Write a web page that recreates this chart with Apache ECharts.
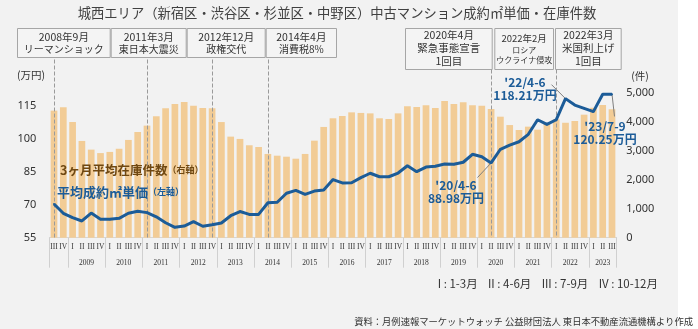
<!DOCTYPE html>
<html><head><meta charset="utf-8">
<script src="https://cdn.jsdelivr.net/npm/echarts@6/dist/echarts.min.js"></script>
<style>html,body{margin:0;padding:0;background:#fff}#c{width:698px;height:329px}</style>
</head><body><div id="c"></div><script>
// ---- data ----
const categories = [
 '2008/III','2008/IV',
 '2009/I','2009/II','2009/III','2009/IV',
 '2010/I','2010/II','2010/III','2010/IV',
 '2011/I','2011/II','2011/III','2011/IV',
 '2012/I','2012/II','2012/III','2012/IV',
 '2013/I','2013/II','2013/III','2013/IV',
 '2014/I','2014/II','2014/III','2014/IV',
 '2015/I','2015/II','2015/III','2015/IV',
 '2016/I','2016/II','2016/III','2016/IV',
 '2017/I','2017/II','2017/III','2017/IV',
 '2018/I','2018/II','2018/III','2018/IV',
 '2019/I','2019/II','2019/III','2019/IV',
 '2020/I','2020/II','2020/III','2020/IV',
 '2021/I','2021/II','2021/III','2021/IV',
 '2022/I','2022/II','2022/III','2022/IV',
 '2023/I','2023/II','2023/III'
];
// 3ヶ月平均在庫件数 (件, right axis)
const inventory = [
 4400,4515,
 4006,3350,3050,2930,
 2970,3080,3385,3660,
 3880,4205,4480,4630,
 4700,4570,4490,4480,
 4005,3500,3420,3200,
 3140,2900,2840,2805,
 2735,2900,3360,3835,
 4135,4215,4340,4320,
 4305,4135,4110,4305,
 4550,4525,4585,4490,
 4735,4630,4690,4585,
 4570,4455,4190,3900,
 3730,3845,3740,3950,
 4100,3980,4040,4260,
 4500,4595,4445
];
// 平均成約㎡単価 (万円, left axis)
const price = [
 70.3,66.1,
 64.1,62.6,66.2,63.4,
 63.4,63.8,66.1,67.0,
 66.4,64.5,61.8,59.7,
 60.3,62.3,60.2,60.9,
 61.7,65.0,66.9,65.6,
 65.6,70.9,71.1,75.2,
 76.5,74.7,76.2,76.7,
 81.4,79.9,80.0,82.3,
 84.3,82.7,82.7,84.4,
 87.7,85.0,87.1,87.5,
 88.5,88.4,89.3,92.9,
 91.8,88.98,95.2,97.1,
 98.6,102.0,108.6,106.5,
 108.6,118.21,115.3,113.8,
 112.3,120.2,120.25
];
const leftTickMin = 55, leftTickMax = 115, leftTickStep = 15;
const rightTickMin = 0, rightTickMax = 5000, rightTickStep = 1000;
// events: category of dashed line + box text
const events = [
 {cat:'2008/III', lines:['2008年9月','リーマンショック']},
 {cat:'2011/I',  lines:['2011年3月','東日本大震災']},
 {cat:'2012/IV', lines:['2012年12月','政権交代']},
 {cat:'2014/II', lines:['2014年4月','消費税8%']},
 {cat:'2020/II', lines:['2020年4月','緊急事態宣言','1回目']},
 {cat:'2022/I',  lines:['2022年2月','ロシア','ウクライナ侵攻']},
 {cat:'2022/I',  lines:['2022年3月','米国利上げ','1回目']}
];
const callouts = [
 {cat:'2020/II', tag:"'20/4-6"},
 {cat:'2022/II', tag:"'22/4-6"},
 {cat:'2023/III', tag:"'23/7-9"}
];

// ---- layout / style ----
const FONT = "'Noto Sans CJK JP','Noto Sans',sans-serif";
const SERIF = "'Liberation Serif','DejaVu Serif',serif";
const BLUE = '#1c5c98', BROWN = '#6f4812', BAR = '#f2cc96';
const gridLeft = 49.35, gridRight = 81.35, gridTop = 58, gridBottom = 91.3;
const plotH = 329 - gridTop - gridBottom;
const leftPxPerUnit = 2.2, rightPxPerUnit = 144.4 / 5000;
const leftMax = leftTickMin + plotH / leftPxPerUnit;
const rightMax = plotH / rightPxPerUnit;
const pxToRight = py => (329 - gridBottom - py) / rightPxPerUnit;

const quarterOf = c => c.split('/')[1];
const yearOf = c => c.split('/')[0];

// year labels: center of each year's quarters
const yearIdx = {};
categories.forEach((c, i) => { (yearIdx[yearOf(c)] = yearIdx[yearOf(c)] || []).push(i); });
const yearLabelAt = {};
Object.keys(yearIdx).forEach(y => {
  const arr = yearIdx[y];
  if (arr.length < 3) return;
  const mid = (arr[0] + arr[arr.length - 1]) / 2;
  if (Number.isInteger(mid)) yearLabelAt[mid] = '{n|' + y + '}';
  else yearLabelAt[Math.floor(mid)] = '{s|' + y + '}';
});

const calloutMap = {};
callouts.forEach(c => { calloutMap[categories.indexOf(c.cat)] = c; });
// label centres and leader-line offsets (pixel styling)
const labelPos = { "'20/4-6": [456, 192], "'22/4-6": [525, 89], "'23/7-9": [605, 133] };
const leaderOffset = { "'20/4-6": [-13.6, 14.6], "'22/4-6": [-14, -14], "'23/7-9": [2.5, 22.3] };

const lineData = price.map((v, i) => {
  const c = calloutMap[i];
  if (!c) return v;
  return {
    value: v,
    label: { show: true, formatter: '{t|' + c.tag + '}\n{t|' + v.toFixed(2) + '万円}' }
  };
});
const leaderData = callouts.map(c => {
  const i = categories.indexOf(c.cat);
  const o = leaderOffset[c.tag];
  return [i, price[i], o[0], o[1]];
});

// boxes (decoration)
const boxes = [
 {x0:17, x1:110.7, y0:28, y1:57, fs:[10.5,10], ys:[36.7,49.3]},
 {x0:110.7, x1:186.7, y0:28, y1:57, fs:[10.5,10], ys:[36.7,49.3]},
 {x0:186.7, x1:265.7, y0:28, y1:57, fs:[10.5,10], ys:[36.7,49.3]},
 {x0:265.7, x1:337, y0:28, y1:57, fs:[10.5,10], ys:[36.7,49.3]},
 {x0:405, x1:492.7, y0:28, y1:69, fs:[10.5,10.5,10.5], ys:[35,48.3,60.7]},
 {x0:494.3, x1:554, y0:28, y1:69, fs:[9.5,8,8], ys:[38.5,49.5,60]},
 {x0:555, x1:621.7, y0:28, y1:69, fs:[10.5,10.5,10.5], ys:[35,48.3,60.7]}
];
const graphics = [
 {type:'rect', shape:{x:678, y:0, width:20, height:329}, style:{fill:'#ffffff'}, z:-100, silent:true},
 {type:'text', style:{text:'城西エリア（新宿区・渋谷区・杉並区・中野区）中古マンション成約㎡単価・在庫件数', x:337, y:12.5,
   textAlign:'center', align:'center', textVerticalAlign:'middle', verticalAlign:'middle', fontSize:13.3, fontFamily:FONT, fill:'#404040'}},
 {type:'text', style:{text:'(万円)', x:31, y:75, textAlign:'center', align:'center', verticalAlign:'middle', textVerticalAlign:'middle', fontSize:10.5, fontFamily:FONT, fill:'#333'}},
 {type:'text', style:{text:'(件)', x:640, y:76, textAlign:'center', align:'center', verticalAlign:'middle', textVerticalAlign:'middle', fontSize:10.5, fontFamily:FONT, fill:'#333'}},
 {type:'text', z:50, style:{text:'{a|3ヶ月平均在庫件数}{b|（右軸）}', x:60, y:170, textAlign:'left', align:'left', verticalAlign:'middle', textVerticalAlign:'middle',
   rich:{a:{fontSize:12.5, fontWeight:'bold', fontFamily:FONT, fill:BROWN, color:BROWN}, b:{fontSize:9, fontWeight:'bold', fontFamily:FONT, fill:BROWN, color:BROWN}}}},
 {type:'text', z:50, style:{text:'{a|平均成約㎡単価}{b|（左軸）}', x:57, y:192, textAlign:'left', align:'left', verticalAlign:'middle', textVerticalAlign:'middle',
   rich:{a:{fontSize:13, fontWeight:'bold', fontFamily:FONT, fill:BLUE, color:BLUE}, b:{fontSize:9, fontWeight:'bold', fontFamily:FONT, fill:BLUE, color:BLUE}}}},
 {type:'text', style:{text:'I : 1-3月    II : 4-6月    III : 7-9月    IV : 10-12月', x:658, y:284, textAlign:'right', align:'right', verticalAlign:'middle', textVerticalAlign:'middle', fontSize:11.5, fontFamily:FONT, fill:'#333'}},
 {type:'text', style:{text:'資料：月例速報マーケットウォッチ 公益財団法人 東日本不動産流通機構より作成', x:693, y:321, textAlign:'right', align:'right', verticalAlign:'middle', textVerticalAlign:'middle', fontSize:9.3, fontFamily:FONT, fill:'#333'}}
];
boxes.forEach((b, k) => {
  graphics.push({type:'rect', shape:{x:b.x0+0.5, y:b.y0+0.5, width:b.x1-b.x0-1, height:b.y1-b.y0}, style:{fill:'#f4f4f4', stroke:'#a6a6a6', lineWidth:1}});
  events[k].lines.forEach((t, j) => {
    graphics.push({type:'text', style:{text:t, x:(b.x0+b.x1)/2, y:b.ys[j], textAlign:'center', align:'center', verticalAlign:'middle', textVerticalAlign:'middle', fontSize:b.fs[j], fontFamily:FONT, fill:'#333'}});
  });
});

const dashTops = [59.5, 59.5, 59.5, 59.5, 69.5, 69.5, 69.5];
const markLines = [];
const seen = {};
events.forEach((e, k) => {
  if (seen[e.cat]) return; seen[e.cat] = 1;
  markLines.push([{coord:[e.cat, pxToRight(dashTops[k])]}, {coord:[e.cat, 0]}]);
});

const chart = echarts.init(document.getElementById('c'));
chart.setOption({
  backgroundColor: '#f2f2f2',
  animation: false,
  textStyle: { fontFamily: FONT },
  grid: { left: gridLeft, right: gridRight, top: gridTop, bottom: gridBottom },
  xAxis: [
    { type:'category', data: categories,
      axisLine:{ show:true, lineStyle:{ color:'#d6d6d6' } },
      axisTick:{ show:true, length:30, interval:(i, v) => i === 0 || quarterOf(v) === 'I', lineStyle:{ color:'#d0d0d0' } },
      axisLabel:{ interval:0, margin:5, fontFamily:SERIF, fontSize:7.5, color:'#333', formatter: v => quarterOf(v) } },
    { type:'category', data: categories, position:'bottom',
      axisLine:{ show:false }, axisTick:{ show:false },
      axisLabel:{ interval:0, margin:21, formatter:(v, i) => yearLabelAt[i] || '',
        rich:{ s:{ fontFamily:SERIF, fontSize:7.5, color:'#333', padding:[0,0,0,9.3] }, n:{ fontFamily:SERIF, fontSize:7.5, color:'#333' } } } }
  ],
  yAxis: [
    { type:'value', min:leftTickMin, max:leftMax, interval:leftTickStep,
      splitLine:{show:false}, axisLine:{show:false}, axisTick:{show:false},
      axisLabel:{ margin:13, fontSize:11, color:'#333', fontFamily:"'Noto Sans',sans-serif",
        formatter: v => (v >= leftTickMin - 1e-6 && v <= leftTickMax + 1e-6 && Math.abs((v - leftTickMin) % leftTickStep) < 1e-6) ? String(v) : '' } },
    { type:'value', min:rightTickMin, max:rightMax, interval:rightTickStep,
      splitLine:{show:false}, axisLine:{show:false}, axisTick:{show:false},
      axisLabel:{ margin:9.5, fontSize:11, color:'#333', fontFamily:"'Noto Sans',sans-serif",
        formatter: v => (v <= rightTickMax && v % rightTickStep === 0) ? v.toLocaleString('en-US') : '' } }
  ],
  series: [
    { type:'bar', name:'3ヶ月平均在庫件数', xAxisIndex:0, yAxisIndex:1, data: inventory,
      barCategoryGap:'28%', itemStyle:{ color: BAR }, z:2,
      markLine:{ silent:true, symbol:['none','none'], label:{show:false},
        lineStyle:{ type:'dashed', color:'#9a9a9a', width:1 }, data: markLines } },
    { type:'custom', name:'leaders', xAxisIndex:0, yAxisIndex:0, data: leaderData, z:4, silent:true, clip:false,
      encode:{ x:0, y:1 },
      renderItem: (params, api) => {
        const p = api.coord([api.value(0), api.value(1)]);
        const dx = api.value(2), dy = api.value(3);
        return { type:'line', shape:{ x1:p[0], y1:p[1], x2:p[0] + dx, y2:p[1] + dy },
                 style:{ stroke:'#7f7f7f', lineWidth:1, fill:null } };
      } },
    { type:'line', name:'平均成約㎡単価', xAxisIndex:0, yAxisIndex:0, data: lineData,
      symbol:'circle', symbolSize:2, showSymbol:true, z:5,
      lineStyle:{ color: BLUE, width:3 }, itemStyle:{ color: BLUE },
      label:{ show:false, rich:{ t:{ fontFamily:FONT, fontSize:12, fontWeight:'bold', color:BLUE, lineHeight:13, align:'center' } } },
      labelLayout: p => {
        const c = calloutMap[p.dataIndex];
        if (!c) return {};
        const pos = labelPos[c.tag];
        return { x: pos[0], y: pos[1], align:'center', verticalAlign:'middle' };
      } }
  ],
  graphic: graphics
});
</script></body></html>
